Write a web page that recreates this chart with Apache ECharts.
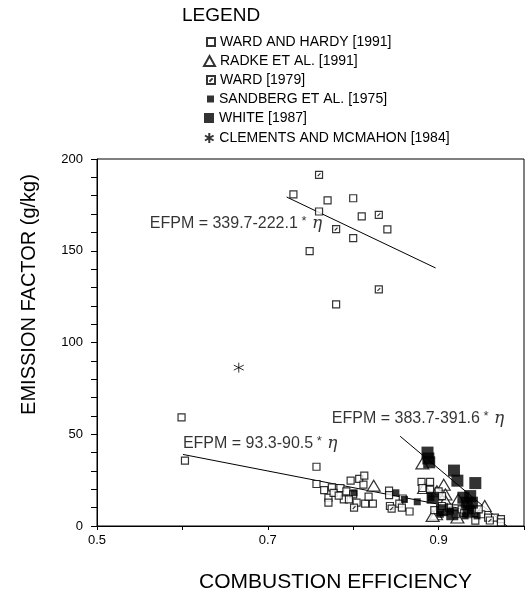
<!DOCTYPE html>
<html><head><meta charset="utf-8">
<script src="https://cdn.jsdelivr.net/npm/echarts@6/dist/echarts.min.js"></script>
<style>html,body{margin:0;padding:0;background:#fff}#c{width:527px;height:598px}</style>
</head><body><div id="c"></div>
<script>
// ---- data ----
var wardHardy = [
  [0.730,180.7],[0.770,177.5],[0.800,178.6],[0.760,171.4],[0.810,168.7],[0.840,161.6],
  [0.800,156.9],[0.749,149.8],[0.780,120.8],
  [0.599,59.2],[0.603,35.6],
  [0.757,32.3],[0.757,22.9],[0.775,21.1],[0.785,20.7],[0.797,24.7],[0.807,25.7],[0.813,27.5],
  [0.812,22.5],[0.792,18.9],[0.771,15.4],[0.771,12.7],[0.777,18.1],[0.789,14.5],[0.800,17.2],
  [0.804,12.7],[0.814,12.2],[0.823,12.2],[0.795,14.5],[0.843,10.9],[0.842,19.3],[0.842,16.8],
  [0.858,15.0],[0.854,12.2],[0.857,10.0],[0.866,7.9],[0.880,24.0],[0.890,24.0],[0.881,20.7],
  [0.890,19.8],[0.895,8.6],[0.904,10.9],[0.912,10.0],[0.920,6.4],[0.935,6.4],[0.943,2.9],
  [0.950,6.4],[0.958,4.6],[0.966,4.6],[0.973,3.7],[0.973,2.0],[0.927,9.1],[0.947,9.1],
  [0.900,18.9],[0.904,16.3],[0.783,16.5],[0.818,16.0],[0.766,19.5]
];
var radke = [
  [0.824,22.0],[0.881,34.1],[0.906,22.5],[0.908,17.2],[0.883,20.7],[0.898,18.9],[0.908,13.6],
  [0.923,14.5],[0.954,10.9],[0.897,6.4],[0.910,9.1],[0.941,8.2],[0.893,5.5],[0.922,4.6]
];
var ward1979 = [
  [0.760,191.4],[0.830,169.6],[0.780,161.8],[0.830,128.9],
  [0.801,10.0],[0.845,9.5],[0.930,7.0],[0.960,3.0]
];
var sandberg = [
  [0.850,18.1],[0.875,13.2],[0.891,15.4],[0.801,18.1],[0.860,14.5],[0.902,6.4],[0.914,8.2],
  [0.931,5.5],[0.937,8.2],[0.945,5.5]
];
var white = [
  [0.887,40.0],[0.888,36.8],[0.889,34.7],[0.918,30.2],[0.922,24.7],[0.943,23.4],[0.937,16.3],
  [0.929,15.4],[0.933,12.7],[0.939,12.7],[0.935,8.2],[0.893,15.4],[0.904,8.6],[0.916,6.4]
];
var clements = [[0.666,86.3]];
var fit1 = [[0.722,179.3],[0.8965,140.6]];
var fit2 = [[0.6006,39.0],[0.95,7.3]];
var fit3 = [[0.855,48.9],[0.983,-1.2]];
var eqLabels = [
  {text:'EFPM = 339.7-222.1', at:[0.7636,165], align:'right'},
  {text:'EFPM = 93.3-90.5', at:[0.6006,45], align:'left'},
  {text:'EFPM = 383.7-391.6', at:[0.775,58.4], align:'left'}
];
var seriesNames = ['WARD AND HARDY [1991]','RADKE ET AL. [1991]','WARD [1979]','SANDBERG ET AL. [1975]','WHITE [1987]','CLEMENTS AND MCMAHON [1984]'];
var xTickLabels = ['0.5','0.7','0.9'];
var yTickLabels = ['0','50','100','150','200'];

var FONT = '"Liberation Sans", Arial, sans-serif';
var chart = echarts.init(document.getElementById('c'), null, {renderer:'canvas'});

function lineSeries(d){
  return {type:'line', data:d, symbol:'none', silent:true, z:1,
    lineStyle:{color:'#000', width:1}};
}
var slashSquare = 'path://M0,0L10,0L10,10L0,10Z M3,7L7,3';
var asterisk = 'path://M5,0L5,10M0.7,2.5L9.3,7.5M0.7,7.5L9.3,2.5';

// legend layout (one legend per entry so icons can differ in size)
var legIcon = [[8,8],[11,10],[8,8],[7,7],[10,10],[10,10]];
var legRowY = [42,61,80,99,118,138];
var legTextX = 220;
var legends = seriesNames.map(function(n,i){
  return {data:[n], orient:'vertical', left:legTextX - legIcon[i][0] - 6, top:legRowY[i]-8,
    itemWidth:legIcon[i][0], itemHeight:legIcon[i][1], itemGap:6, selectedMode:false, padding:0,
    textStyle:{fontFamily:FONT, fontSize:14, color:'#000', lineHeight:16}};
});

var option = {
  animation:false,
  backgroundColor:'#fff',
  title:{text:'LEGEND', left:182, top:6, padding:0, textStyle:{fontFamily:FONT, fontSize:19, fontWeight:'normal', color:'#000'}},
  legend:legends,
  grid:{left:97, top:159, width:432, bottom:66, show:true, borderColor:'#000', borderWidth:1, containLabel:false},
  xAxis:{
    type:'value', min:0.5, max:1.0, interval:0.1,
    axisLine:{lineStyle:{color:'#000', width:1}},
    axisTick:{show:true, length:4, lineStyle:{color:'#000'}},
    splitLine:{show:false},
    axisLabel:{fontFamily:FONT, fontSize:13, color:'#000', margin:8,
      formatter:function(v){var s=(Math.round(v*10)/10).toFixed(1);return xTickLabels.indexOf(s)>=0?s:'';}},
    name:'COMBUSTION EFFICIENCY', nameLocation:'middle', nameGap:46,
    nameTextStyle:{fontFamily:FONT, fontSize:21, color:'#000', padding:[0,0,0,50]}
  },
  yAxis:{
    type:'value', min:0, max:200, interval:10,
    axisLine:{show:true, lineStyle:{color:'#000', width:1}},
    axisTick:{show:true, length:6, lineStyle:{color:'#000'}},
    splitLine:{show:false},
    axisLabel:{fontFamily:FONT, fontSize:13, color:'#000', margin:14,
      formatter:function(v){var s=String(Math.round(v));return yTickLabels.indexOf(s)>=0?s:'';}},
    name:'EMISSION FACTOR (g/kg)', nameLocation:'middle', nameGap:58,
    nameTextStyle:{fontFamily:FONT, fontSize:20, color:'#000', padding:[0,0,0,96]}
  },
  series:[
    {name:seriesNames[0], type:'scatter', data:wardHardy, symbol:'rect', symbolSize:7, z:3,
      itemStyle:{color:'#fff', borderColor:'#000', borderWidth:1.2}},
    {name:seriesNames[1], type:'scatter', data:radke, symbol:'triangle', symbolSize:[13,11], z:2,
      itemStyle:{color:'#fff', borderColor:'#000', borderWidth:1.2}},
    {name:seriesNames[2], type:'scatter', data:ward1979, symbol:slashSquare, symbolSize:7, z:3,
      itemStyle:{color:'#fff', borderColor:'#000', borderWidth:1.2}},
    {name:seriesNames[3], type:'scatter', data:sandberg, symbol:'rect', symbolSize:7, z:4,
      itemStyle:{color:'#000', borderColor:'#000', borderWidth:0}},
    {name:seriesNames[4], type:'scatter', data:white, symbol:'rect', symbolSize:12, z:4,
      itemStyle:{color:'#000', borderColor:'#000', borderWidth:0}},
    {name:seriesNames[5], type:'scatter', data:clements, symbol:asterisk, symbolSize:10, z:3,
      itemStyle:{color:'transparent', borderColor:'#000', borderWidth:1}},
    lineSeries(fit1), lineSeries(fit2), lineSeries(fit3),
    {type:'scatter', silent:true, symbolSize:0, z:5,
      data:eqLabels.map(function(e){return {value:e.at, label:{show:true, position:'inside',
        formatter:'{t|' + e.text + '}{s| *}{e| η}', align:e.align, verticalAlign:'middle',
        rich:{
          t:{fontFamily:FONT, fontSize:16, color:'#000'},
          s:{fontFamily:FONT, fontSize:13, color:'#000', verticalAlign:'top', padding:[0,0,4,0]},
          e:{fontFamily:'"DejaVu Serif", serif', fontStyle:'italic', fontSize:17, color:'#000'}
        }}};})}
  ]
};
chart.setOption(option);
</script></body></html>
